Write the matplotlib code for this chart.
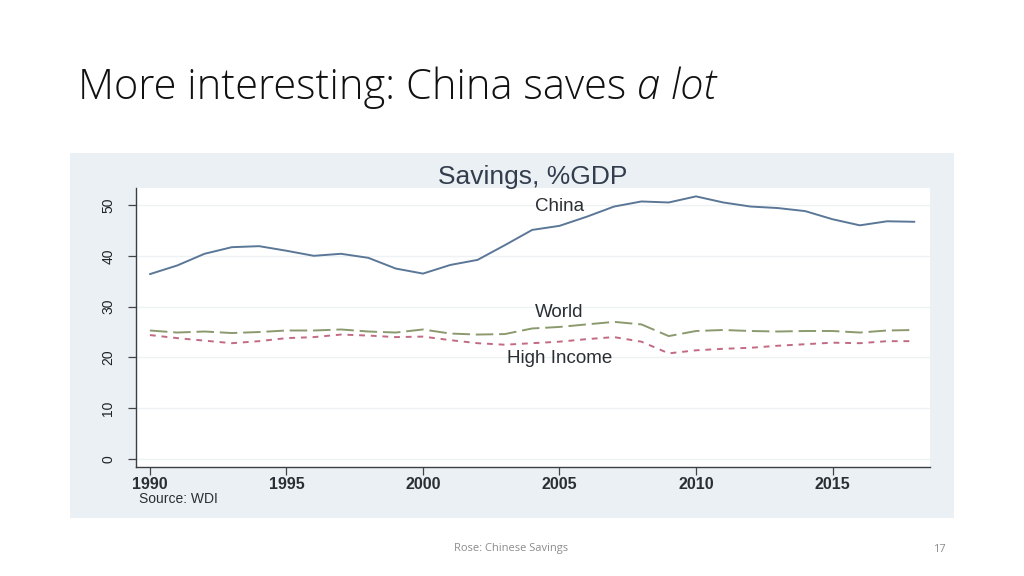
import matplotlib
matplotlib.use("Agg")
import matplotlib.pyplot as plt
from matplotlib.patches import Rectangle

years = list(range(1990, 2019))
china = [36.4, 38.1, 40.4, 41.7, 41.9, 41.0, 40.0, 40.4, 39.6, 37.5,
         36.5, 38.2, 39.2, 42.1, 45.1, 45.9, 47.7, 49.7, 50.7, 50.5,
         51.7, 50.5, 49.7, 49.4, 48.8, 47.2, 46.0, 46.8, 46.7]
world = [25.3, 24.9, 25.1, 24.8, 25.0, 25.3, 25.3, 25.5, 25.1, 24.9,
         25.5, 24.7, 24.5, 24.6, 25.7, 26.0, 26.5, 27.0, 26.5, 24.2,
         25.2, 25.4, 25.2, 25.1, 25.2, 25.2, 24.9, 25.3, 25.4]
high_income = [24.4, 23.8, 23.3, 22.8, 23.2, 23.8, 24.0, 24.5, 24.3, 24.0,
               24.1, 23.4, 22.8, 22.5, 22.8, 23.1, 23.6, 24.0, 23.1, 20.8,
               21.4, 21.7, 21.9, 22.3, 22.6, 22.9, 22.8, 23.2, 23.2]
x_ticks = [1990, 1995, 2000, 2005, 2010, 2015]
y_ticks = [0, 10, 20, 30, 40, 50]
series_labels = ["China", "World", "High Income"]

W, H = 1024, 576
fig = plt.figure(figsize=(W / 100, H / 100), dpi=100)
fig.patch.set_facecolor("white")

# Chart panel background
fig.patches.append(Rectangle((70 / W, 1 - 518 / H), (954 - 70) / W, (518 - 153) / H,
                             transform=fig.transFigure, facecolor="#eaf0f3",
                             edgecolor="none", zorder=0))

ax = fig.add_axes([136 / W, 1 - 467 / H, (930 - 136) / W, (467 - 188) / H])
ax.set_facecolor("white")
ax.set_zorder(1)

ax.plot(years, china, color="#5b7797", lw=1.4, solid_capstyle="round")
ax.plot(years, world, color="#8b9a6e", lw=1.4, dashes=(9, 3))
ax.plot(years, high_income, color="#c36a82", lw=1.4, dashes=(3, 3))

ax.set_xlim(1989.49, 2018.57)
ax.set_ylim(-1.57, 53.35)
ax.set_xticks(x_ticks)
ax.set_yticks(y_ticks)
ax.set_xticklabels([str(t) for t in x_ticks], fontsize=11.5, family="Liberation Sans",
                   fontweight="bold", color="#2a2f35")
ax.set_yticklabels([str(t) for t in y_ticks], fontsize=10, family="Liberation Sans",
                   rotation=90, va="center", color="#1e2328")
ax.tick_params(axis="both", direction="out", length=6, width=0.9, color="#444444")
ax.tick_params(axis="y", pad=9)
ax.tick_params(axis="x", pad=1.5)
for s in ["top", "right"]:
    ax.spines[s].set_visible(False)
for s in ["left", "bottom"]:
    ax.spines[s].set_color("#3a3f44")
    ax.spines[s].set_linewidth(1.0)
ax.grid(axis="y", color="#eef2f4", lw=1.0)
ax.set_axisbelow(True)

# series labels
lab_kw = dict(ha="center", va="center", fontsize=13.5, family="Liberation Sans",
              color="#2a2f35")
ax.text(2005, 49.8, series_labels[0], **lab_kw)
ax.text(2005, 28.8, series_labels[1], **lab_kw)
ax.text(2005, 19.7, series_labels[2], **lab_kw)

# chart title and source
fig.text(533 / W, 1 - 177 / H, "Savings, %GDP", ha="center", va="center", fontsize=19,
         family="Liberation Sans", color="#333d4d")
fig.text(139 / W, 1 - 499 / H, "Source: WDI", ha="left", va="center", fontsize=10,
         family="Liberation Sans", color="#2a2f35")

# slide title
fig.canvas.draw()
r = fig.canvas.get_renderer()
t1 = fig.text(78 / W, 1 - 88 / H, "More interesting: China saves ", ha="left", va="center",
              fontsize=30, family="Open Sans", fontweight="light", color="#111111")
bb = t1.get_window_extent(renderer=r)
fig.text(bb.x1 / W, 1 - 88 / H, "a lot", ha="left", va="center", fontsize=30,
         family="Open Sans", fontweight="light", style="italic", color="#111111")

# footer
fig.text(511 / W, 1 - 549 / H, "Rose: Chinese Savings", ha="center", va="center", fontsize=8,
         family="Open Sans", color="#8c8c8c")
fig.text(939 / W, 1 - 549 / H, "17", ha="center", va="center", fontsize=8,
         family="Open Sans", color="#8c8c8c")

fig.savefig("out.png", dpi=100, facecolor="white")
